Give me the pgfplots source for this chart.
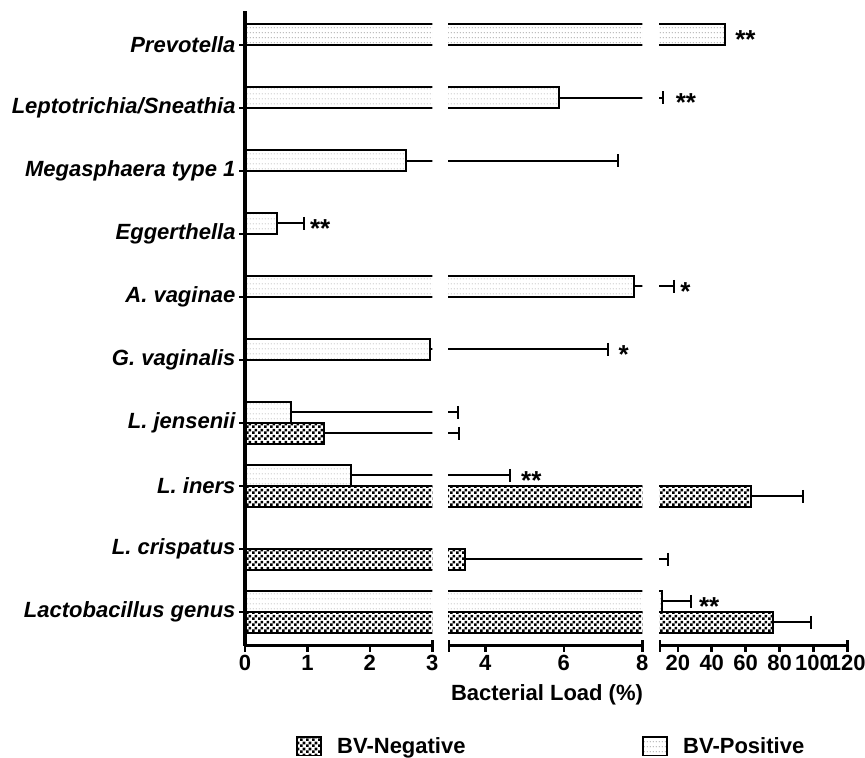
\documentclass[border=0pt]{standalone}
\usepackage{fontspec}
\setmainfont{Liberation Sans}
\usepackage{pgfplots}
\usepackage{pgfplotstable}
\pgfplotsset{compat=1.18}
\usetikzlibrary{patterns.meta}

\tikzdeclarepattern{
  name=checker,
  type=uncolored,
  bounding box={(0bp,0bp) and (6bp,6bp)},
  tile size={(6bp,6bp)},
  code={
    \fill (0bp,0bp) rectangle (3bp,3bp);
    \fill (3bp,3bp) rectangle (6bp,6bp);
  }
}
\tikzdeclarepattern{
  name=finedots,
  type=uncolored,
  bounding box={(0bp,0bp) and (3.2bp,4.6bp)},
  tile size={(3.2bp,4.6bp)},
  code={
    \fill (1.2bp,1.9bp) rectangle (2.0bp,2.7bp);
  }
}

% BV-Negative
\pgfplotstableread{
y val err
0 76.0 22.3
1 3.48 11.0
2 63.4 30.7
3 1.27 2.06
}\negdata
% BV-Positive (with error bars)
\pgfplotstableread{
y val err
0 10.6 16.9
2 1.69 2.94
3 0.74 2.56
4 2.97 4.16
5 7.78 10.0
6 0.52 0.42
7 2.58 4.79
8 5.875 5.13
}\posdata
% BV-Positive, Prevotella (no visible error bar)
\pgfplotstableread{
y val
9 48.0
}\prevdata

\newcommand{\bigfont}{\fontsize{22bp}{26bp}\selectfont\bfseries}

\tikzset{sig/.style={anchor=base west, font=\fontsize{26bp}{30bp}\selectfont\bfseries, inner sep=0pt, yshift=-14.5bp}}

\pgfplotsset{
  seg/.style={
    scale only axis, anchor=south west, height=635bp,
    ymin=-0.54, ymax=9.54,
    axis x line*=bottom,
    axis line style={line width=3bp},
    every tick/.style={black, line width=2.5bp},
    major tick length=6bp, tick align=outside,
    xticklabel style={font=\bigfont},
    /pgf/number format/assume math mode=true,
    extra x tick labels={},
    extra x tick style={tick align=center, major tick length=12bp},
    clip marker paths=true,
  },
  negbar/.style={xbar, bar width=21bp, bar shift=-10.5bp, draw=black, line width=2bp,
    pattern=checker, pattern color=black,
    error bars/x dir=plus, error bars/x explicit,
    error bars/error mark=|,
    error bars/error bar style={line width=2bp, black, yshift=-10.5bp},
    error bars/error mark options={black, line width=2bp, mark size=6.5bp}},
  posbar/.style={xbar, bar width=21bp, bar shift=10.5bp, draw=black, line width=2bp,
    pattern=finedots, pattern color=black!60,
    error bars/x dir=plus, error bars/x explicit,
    error bars/error mark=|,
    error bars/error bar style={line width=2bp, black, yshift=10.5bp},
    error bars/error mark options={black, line width=2bp, mark size=6.5bp}},
  posbarplain/.style={xbar, bar width=21bp, bar shift=10.5bp, draw=black, line width=2bp,
    pattern=finedots, pattern color=black!60},
}

\newcommand{\allbars}{%
  \addplot[negbar] table[x=val, y=y, x error=err]{\negdata};
  \addplot[posbar] table[x=val, y=y, x error=err]{\posdata};
  \addplot[posbarplain] table[x=val, y=y]{\prevdata};
}

\begin{document}
\begin{tikzpicture}
\path[use as bounding box] (0,0) rectangle (865bp,758bp);

% segment 1: 0 - 3
\begin{axis}[seg, at={(245bp,112bp)}, width=187.3bp, xmin=0, xmax=3,
  axis y line*=left, xtick={0,1,2,3}, extra x ticks={3},
  ytick={0,...,9},
  yticklabels={Lactobacillus genus,L. crispatus,L. iners,L. jensenii,G. vaginalis,A. vaginae,Eggerthella,Megasphaera type 1,Leptotrichia/Sneathia,Prevotella},
  yticklabel style={font=\bigfont\itshape},
  ]
\allbars
\node[sig] at (axis cs:1.04,6.167) {**};
\end{axis}

% segment 2: 3 - 8
\begin{axis}[seg, at={(446bp,112bp)}, width=196.3bp, xmin=3, xmax=8,
  axis y line=none, ytick=\empty, xtick={4,6,8}, extra x ticks={3.077,8}]
\allbars
\node[sig] at (axis cs:7.39,4.167) {*};
\node[sig] at (axis cs:4.91,2.167) {**};
\end{axis}

% segment 3: 8 - 120
\begin{axis}[seg, at={(657.5bp,112bp)}, width=189.8bp, xmin=8, xmax=120,
  axis y line=none, ytick=\empty, xtick={20,40,...,120}, extra x ticks={9.5,120}]
\allbars
\node[sig] at (axis cs:53.8,9.167) {**};
\node[sig] at (axis cs:18.7,8.167) {**};
\node[sig] at (axis cs:21.4,5.167) {*};
\node[sig] at (axis cs:32.4,0.167) {**};
\end{axis}

% axis breaks
\fill[white] (433.8bp,109bp) rectangle (447.6bp,758bp);
\fill[white] (643.8bp,109bp) rectangle (658.7bp,758bp);

\node[font=\bigfont] at (547bp,63bp) {Bacterial Load (\%)};

\draw[line width=1.5bp, pattern=checker, pattern color=black] (297bp,2.5bp) rectangle (321bp,21bp);
\node[anchor=base west, font=\bigfont, inner sep=0pt] at (337bp,5bp) {BV-Negative};
\draw[line width=1.5bp, pattern=finedots, pattern color=black!60] (643bp,2.5bp) rectangle (667bp,21bp);
\node[anchor=base west, font=\bigfont, inner sep=0pt] at (683bp,5bp) {BV-Positive};
\end{tikzpicture}
\end{document}
